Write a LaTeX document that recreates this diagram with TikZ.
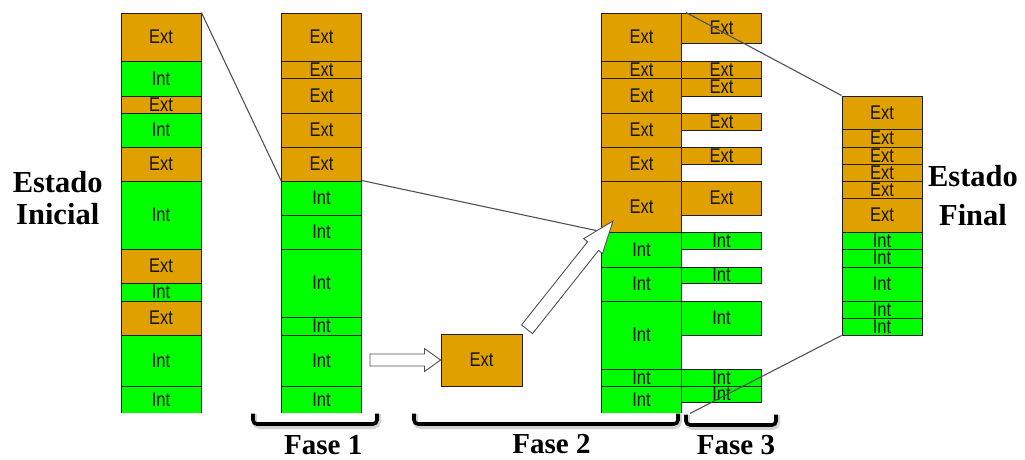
\documentclass[tikz,border=0pt]{standalone}
\usepackage{fontspec}
\setmainfont{Liberation Serif}
\newfontfamily\boxfont{Liberation Sans}
\usetikzlibrary{calc}
\definecolor{extcol}{RGB}{224,160,0}
\definecolor{intcol}{RGB}{0,255,0}
\definecolor{bordercol}{RGB}{30,30,30}
\definecolor{linecol}{RGB}{80,80,90}
\tikzset{
  cellbase/.style={draw=bordercol, line width=0.9pt, minimum width=80pt, inner sep=0pt,
     font=\boxfont\fontsize{16.5}{16.5}\selectfont, text=black!92},
  E/.style={cellbase, fill=extcol},
  I/.style={cellbase, fill=intcol},
  conn/.style={draw=linecol, line width=1.1pt},
  blockarrow/.style={draw=linecol, fill=white, line width=0.9pt, line join=miter},
  brace/.style={draw=black, line width=3.6pt, rounded corners=4pt},
  braceshadow/.style={draw=black!35, line width=5pt, rounded corners=5pt, opacity=0.5},
  title/.style={font=\bfseries, align=center, inner sep=0pt},
}
\newcommand\bx[6]{\node[#1, minimum height={#5-#4}] (#2) at (#3,{(#4+#5)/2}) {\scalebox{1}[1.2]{#6}};}
\newcommand\fatarrow[5]{%
  \coordinate (faH) at ($(#2)!#3pt!(#1)$);
  \draw[blockarrow] (#2) -- ($(faH)!#5pt!90:(#1)$) -- ($(faH)!#4pt!90:(#1)$)
     -- ($(#1)!#4pt!-90:(faH)$) -- ($(#1)!#4pt!90:(faH)$) -- ($(faH)!#4pt!-90:(#1)$)
     -- ($(faH)!#5pt!-90:(#1)$) -- cycle;}
\begin{document}
\begin{tikzpicture}[x=1pt,y=-1pt]
\useasboundingbox (0,0) rectangle (1025,459);
\begin{scope}
\clip (0,13.7) rectangle (1025,412.8);
% column 1: Estado Inicial
\bx{E}{c1a}{161}{13}{61}{Ext}
\bx{I}{c1b}{161}{61}{96}{Int}
\bx{E}{c1c}{161}{96}{113}{Ext}
\bx{I}{c1d}{161}{113}{147}{Int}
\bx{E}{c1e}{161}{147}{181}{Ext}
\bx{I}{c1f}{161}{181}{249}{Int}
\bx{E}{c1g}{161}{249}{283}{Ext}
\bx{I}{c1h}{161}{283}{301}{Int}
\bx{E}{c1i}{161}{301}{335}{Ext}
\bx{I}{c1j}{161}{335}{386}{Int}
\bx{I}{c1k}{161}{386}{413.5}{Int}
% column 2: Fase 1
\bx{E}{c2a}{321.5}{13}{61}{Ext}
\bx{E}{c2b}{321.5}{61}{78.5}{Ext}
\bx{E}{c2c}{321.5}{78.5}{113}{Ext}
\bx{E}{c2d}{321.5}{113}{147}{Ext}
\bx{E}{c2e}{321.5}{147}{181}{Ext}
\bx{I}{c2f}{321.5}{181}{215}{Int}
\bx{I}{c2g}{321.5}{215}{249}{Int}
\bx{I}{c2h}{321.5}{249}{317}{Int}
\bx{I}{c2i}{321.5}{317}{335}{Int}
\bx{I}{c2j}{321.5}{335}{386}{Int}
\bx{I}{c2k}{321.5}{386}{413.5}{Int}
% column 3
\bx{E}{c3a}{641.5}{13}{61}{Ext}
\bx{E}{c3b}{641.5}{61}{78.5}{Ext}
\bx{E}{c3c}{641.5}{78.5}{113}{Ext}
\bx{E}{c3d}{641.5}{113}{147}{Ext}
\bx{E}{c3e}{641.5}{147}{181}{Ext}
\bx{E}{c3f}{641.5}{181}{232}{Ext}
\bx{I}{c3g}{641.5}{232}{267}{Int}
\bx{I}{c3h}{641.5}{267}{301}{Int}
\bx{I}{c3i}{641.5}{301}{369}{Int}
\bx{I}{c3j}{641.5}{369}{386}{Int}
\bx{I}{c3k}{641.5}{386}{413.5}{Int}
% side boxes (Fase 3)
\bx{E}{s1}{721.5}{13}{43}{Ext}
\bx{E}{s2}{721.5}{61}{78.5}{Ext}
\bx{E}{s3}{721.5}{78.5}{96}{Ext}
\bx{E}{s4}{721.5}{113}{130}{Ext}
\bx{E}{s5}{721.5}{147}{164}{Ext}
\bx{E}{s6}{721.5}{181}{215}{Ext}
\bx{I}{s7}{721.5}{232}{249}{Int}
\bx{I}{s8}{721.5}{267}{283}{Int}
\bx{I}{s9}{721.5}{301}{335}{Int}
\bx{I}{s10}{721.5}{369}{386}{Int}
\bx{I}{s11}{721.5}{386}{402}{Int}
\end{scope}
% column 4: Estado Final
\bx{E}{c4a}{882}{96}{129}{Ext}
\bx{E}{c4b}{882}{129}{147}{Ext}
\bx{E}{c4c}{882}{147}{164}{Ext}
\bx{E}{c4d}{882}{164}{181}{Ext}
\bx{E}{c4e}{882}{181}{198}{Ext}
\bx{E}{c4f}{882}{198}{232}{Ext}
\bx{I}{c4g}{882}{232}{249}{Int}
\bx{I}{c4h}{882}{249}{267}{Int}
\bx{I}{c4i}{882}{267}{301}{Int}
\bx{I}{c4j}{882}{301}{318}{Int}
\bx{I}{c4k}{882}{318}{335}{Int}
% Fase 2 moved block
\node[E, minimum width=81pt, minimum height=52pt] (mid) at (481.5,360) {\scalebox{1}[1.2]{Ext}};
% connector lines
\draw[conn] (c1a.north east) -- (c2f.north west);
\draw[conn] (c2f.north east) -- (c3g.north west);
\draw[conn] ($(s1.north west)+(5,0)$) -- (c4a.north west);
\draw[conn] ($(c3k.south east)+(8,-0.5)$) -- (c4k.south west);
% block arrows
\coordinate (t1) at (370,360);
\fatarrow{t1}{mid.west}{16}{6}{11.5}
\coordinate (t2) at (527,329.3);
\coordinate (tip2) at (613,221);
\fatarrow{t2}{tip2}{32}{7}{12}
% brackets
\draw[braceshadow] (254.5,414) -- (254.5,426.5) -- (378.5,426.5) -- (378.5,414);
\draw[brace] (253,413.5) -- (253,424) -- (377,424) -- (377,413.5);
\draw[braceshadow] (415.5,414) -- (415.5,426.5) -- (679.5,426.5) -- (679.5,414);
\draw[brace] (414,413.5) -- (414,424) -- (678,424) -- (678,413.5);
\draw[braceshadow] (687.5,415) -- (687.5,427.5) -- (777.5,427.5) -- (777.5,415);
\draw[brace] (686,414.5) -- (686,425) -- (776,425) -- (776,414.5);
% titles
\node[title, font=\bfseries\fontsize{30.5}{31.3}\selectfont] (ini) at (57.7,198) {Estado\\Inicial};
\node[title, font=\bfseries\fontsize{30.5}{39.3}\selectfont] (fin) at (973,195.5) {Estado\\Final};
\node[title, font=\bfseries\fontsize{29}{30}\selectfont] (f1) at (323.3,445) {Fase 1};
\node[title, font=\bfseries\fontsize{29}{30}\selectfont] (f2) at (551.5,444.5) {Fase 2};
\node[title, font=\bfseries\fontsize{29}{30}\selectfont] (f3) at (736,445.3) {Fase 3};
\end{tikzpicture}
\end{document}
